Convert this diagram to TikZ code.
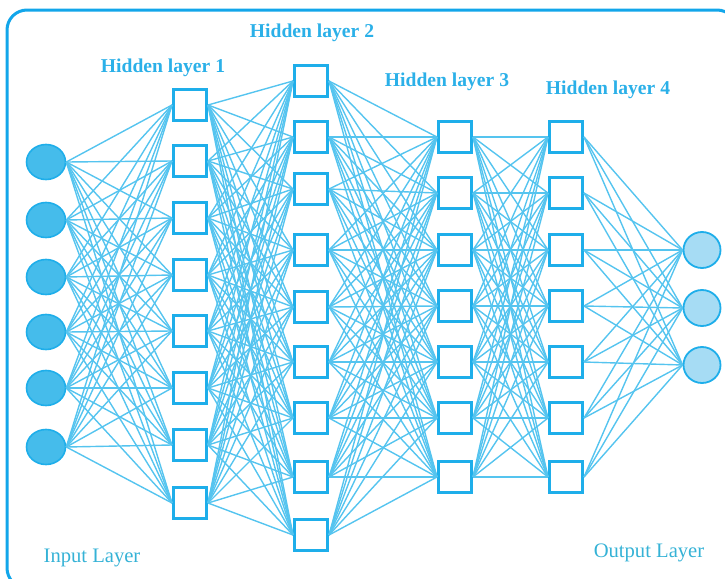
\documentclass[tikz,border=0pt]{standalone}
\usepackage{fontspec}
\setmainfont{Liberation Serif}
\usetikzlibrary{shapes.geometric}
\definecolor{framecol}{HTML}{12A6EA}
\definecolor{boxcol}{HTML}{1EAEEA}
\definecolor{linkcol}{HTML}{55C4EF}
\definecolor{incol}{HTML}{45BCEB}
\definecolor{outcol}{HTML}{A6DCF4}
\definecolor{labcol}{HTML}{2BB0E8}
\definecolor{endcol}{HTML}{35B2D6}
\begin{document}
\begin{tikzpicture}[x=0.5pt,y=-0.5pt,
  frame/.style={draw=framecol,line width=1.5pt,rounded corners=10pt},
  innode/.style={ellipse,draw=boxcol,line width=0.8pt,fill=incol,minimum width=19.5pt,minimum height=17.5pt,inner sep=0pt},
  outnode/.style={ellipse,draw=boxcol,line width=0.9pt,fill=outcol,minimum width=18.5pt,minimum height=18pt,inner sep=0pt},
  hid/.style={draw=boxcol,line width=1.5pt,fill=white,minimum width=16.5pt,minimum height=15.5pt,inner sep=0pt},
  link/.style={draw=linkcol,line width=0.7pt},
  hidlab/.style={text=labcol,font=\fontsize{9.8}{11}\selectfont\bfseries},
  endlab/.style={text=endcol,font=\fontsize{10.3}{12}\selectfont}]
\useasboundingbox (0,0) rectangle (725,579);
\draw[frame] (7,10) rectangle (737,588);
% labels
\node[hidlab] (lab1) at (163,68) {Hidden layer 1};
\node[hidlab] (lab2) at (312,33) {Hidden layer 2};
\node[hidlab] (lab3) at (447,82) {Hidden layer 3};
\node[hidlab] (lab4) at (608,90) {Hidden layer 4};
\node[endlab] (labin) at (92,558) {Input Layer};
\node[endlab] (labout) at (649,553) {Output Layer};
% neurons
\foreach \y [count=\k] in {162,220,277,332,388,447}
  \node[innode] (i\k) at (46,\y) {};
\foreach \y [count=\k] in {105,161,218,275,331,388,445,503}
  \node[hid] (a\k) at (190,\y) {};
\foreach \y [count=\k] in {81,137,189,250,307,362,418,477,535}
  \node[hid] (b\k) at (311,\y) {};
\foreach \y [count=\k] in {137,193,250,306,362,418,477}
  \node[hid] (c\k) at (455,\y) {};
\foreach \y [count=\k] in {137,193,250,306,362,418,477}
  \node[hid] (d\k) at (566,\y) {};
\foreach \y [count=\k] in {250,308,365}
  \node[outnode] (o\k) at (702,\y) {};
% connections
\foreach \s in {1,...,6}
  \foreach \t in {1,...,8}
    \draw[link] (i\s.east) -- (a\t.west);
\foreach \s in {1,...,8}
  \foreach \t in {1,...,9}
    \draw[link] (a\s.east) -- (b\t.west);
\foreach \s in {1,...,9}
  \foreach \t in {1,...,7}
    \draw[link] (b\s.east) -- (c\t.west);
\foreach \s in {1,...,7}
  \foreach \t in {1,...,7}
    \draw[link] (c\s.east) -- (d\t.west);
\foreach \s in {1,...,7}
  \foreach \t in {1,...,3}
    \draw[link] (d\s.east) -- (o\t.west);
\end{tikzpicture}
\end{document}
